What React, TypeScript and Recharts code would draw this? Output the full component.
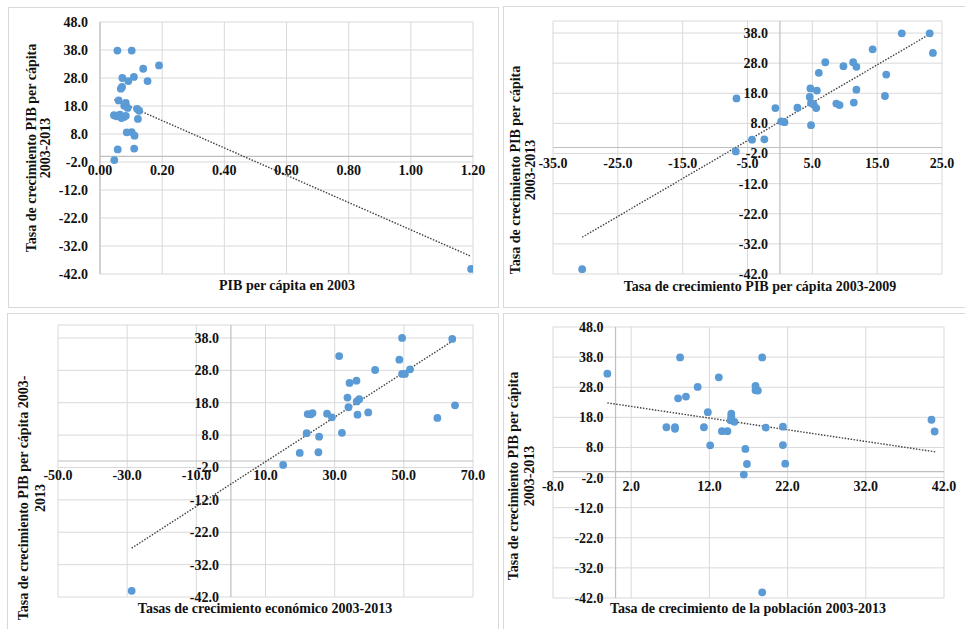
import React from 'react';
import {
  ScatterChart,
  Scatter,
  XAxis,
  YAxis,
  CartesianGrid,
  ReferenceLine,
  ReferenceDot,
} from 'recharts';

const FONT = '"Liberation Serif", "Times New Roman", serif';

// panel 1: PIB per cápita en 2003
const p1X = [0.056, 0.102, 0.19, 0.139, 0.072, 0.109, 0.091, 0.153, 0.071, 0.067, 0.06, 0.083, 0.078, 0.089, 0.119, 0.126, 0.045, 0.053, 0.064, 0.069, 0.077, 0.083, 0.122, 0.086, 0.102, 0.111, 0.057, 0.11, 0.046, 1.194];
const p1Y = [37.8, 37.8, 32.5, 31.3, 28.0, 28.4, 26.9, 26.9, 24.8, 24.2, 20.0, 19.1, 18.1, 17.3, 17.0, 16.3, 14.7, 14.3, 14.9, 13.7, 14.1, 14.5, 13.4, 8.6, 8.7, 7.4, 2.5, 2.8, -1.3, -40.2];
const p1XTicks = [0, 0.2, 0.4, 0.6, 0.8, 1.0, 1.2];
const p1YTicks = [48, 38, 28, 18, 8, -2, -12, -22, -32, -42];
const p1Trend = [{ x: 0.046, y: 20.3 }, { x: 1.19, y: -35.5 }];

// panel 2: tasa de crecimiento PIB per cápita 2003-2009
const p2X = [18.8, 23.1, 23.6, 14.3, 7.0, 11.3, 11.8, 9.8, 6.0, 16.4, 4.7, 5.7, 11.8, -6.7, 4.6, 16.2, 4.8, 5.2, 5.6, 8.7, 9.2, 11.4, -0.7, 2.7, 0.2, 0.7, 4.8, -4.3, -2.4, -6.8, -30.5];
const p2Y = [37.9, 37.9, 31.4, 32.6, 28.3, 28.3, 26.8, 27.0, 24.8, 24.2, 19.6, 18.9, 19.2, 16.3, 16.8, 17.1, 14.8, 14.3, 13.1, 14.6, 14.1, 14.9, 13.1, 13.2, 8.7, 8.4, 7.4, 2.6, 2.7, -1.3, -40.4];
const p2XTicks = [-35, -25, -15, -5, 5, 15, 25];
const p2YTicks = [38, 28, 18, 8, -2, -12, -22, -32, -42];
const p2Trend = [{ x: -30.5, y: -29.8 }, { x: 23.4, y: 38.0 }];

// panel 3: tasas de crecimiento económico 2003-2013
const p3X = [49.5, 64.0, 31.3, 48.7, 41.7, 51.8, 49.5, 50.3, 34.3, 36.3, 33.7, 37.1, 36.4, 34.0, 64.8, 22.2, 23.1, 23.6, 27.8, 29.2, 36.6, 39.7, 59.7, 21.9, 32.1, 25.5, 19.9, 25.3, 15.1, -28.7];
const p3Y = [38.0, 37.7, 32.4, 31.3, 28.1, 28.3, 26.9, 26.9, 24.1, 24.8, 19.6, 19.1, 18.4, 16.6, 17.2, 14.5, 14.4, 14.8, 14.6, 13.5, 14.3, 15.0, 13.3, 8.6, 8.7, 7.5, 2.5, 2.7, -1.2, -40.1];
const p3XTicks = [-50, -30, -10, 10, 30, 50, 70];
const p3YTicks = [38, 28, 18, 8, -2, -12, -22, -32, -42];
const p3Trend = [{ x: -28.7, y: -26.9 }, { x: 64.0, y: 37.0 }];

// panel 4: tasa de crecimiento de la población 2003-2013
const p4X = [-1.05, 8.25, 18.75, 13.2, 10.5, 17.9, 17.9, 18.2, 8.0, 9.0, 11.8, 14.8, 14.8, 15.2, 14.7, 40.4, 6.5, 7.6, 7.6, 11.3, 19.2, 21.4, 13.6, 14.3, 40.8, 12.1, 21.4, 16.6, 16.8, 21.7, 16.4, 18.75];
const p4Y = [32.5, 37.9, 37.9, 31.3, 28.1, 28.4, 27.0, 26.9, 24.3, 24.9, 19.7, 19.2, 18.4, 16.5, 17.0, 17.2, 14.7, 14.7, 14.2, 14.7, 14.6, 14.9, 13.4, 13.4, 13.3, 8.7, 8.8, 7.5, 2.5, 2.6, -1.0, -40.1];
const p4XTicks = [-8, 2, 12, 22, 32, 42];
const p4YTicks = [48, 38, 28, 18, 8, -2, -12, -22, -32, -42];
const p4Trend = [{ x: -1.05, y: 22.8 }, { x: 41.0, y: 6.5 }];

const labelStyle = { fontSize: 14, fontWeight: 'bold', fill: '#111', fontFamily: FONT };

const Dot = (props: any) => <circle cx={props.cx} cy={props.cy} r={3.9} fill="#5B9BD5" />;

function Panel(props: any) {
  const { left, top, width, height, margin, xs, ys, xTicks, yTicks, xDomain, yDomain, xDigits, trend, xOff } = props;
  const data = xs.map((x: number, i: number) => ({ x, y: ys[i] }));
  return (
    <>
      <div
        style={{
          position: 'absolute',
          left,
          top,
          width,
          height,
          border: '1px solid #d9d9d9',
          boxSizing: 'border-box',
        }}
      />
      <div style={{ position: 'absolute', left, top }}>
        <ScatterChart width={width} height={height} margin={margin} style={{ fontFamily: FONT }}>
          <CartesianGrid stroke="#d9d9d9" />
          <XAxis type="number" dataKey="x" domain={xDomain} ticks={xTicks} hide allowDataOverflow />
          <YAxis type="number" dataKey="y" domain={yDomain} ticks={yTicks} hide allowDataOverflow />
          <ReferenceLine x={0} stroke="#bfbfbf" strokeWidth={1.2} />
          <ReferenceLine y={0} stroke="#bfbfbf" strokeWidth={1.2} />
          <Scatter data={data} shape={Dot} isAnimationActive={false} />
          <ReferenceLine
            segment={trend}
            stroke="#404040"
            strokeWidth={1.4}
            strokeDasharray="1.5 1.5"
            ifOverflow="visible"
          />
          {xTicks.map((t: number) => (
            <ReferenceDot
              key={'x' + t}
              x={t}
              y={0}
              r={0}
              fill="none"
              stroke="none"
              label={{ value: t.toFixed(xDigits), position: 'bottom', offset: xOff, ...labelStyle }}
            />
          ))}
          {yTicks.map((t: number) => (
            <ReferenceDot
              key={'y' + t}
              x={0}
              y={t}
              r={0}
              fill="none"
              stroke="none"
              label={{ value: t.toFixed(1), position: 'left', offset: 12, ...labelStyle }}
            />
          ))}
        </ScatterChart>
      </div>
    </>
  );
}

function Title({ cx, cy, lines, rotate, lineHeight }: any) {
  return (
    <div
      style={{
        position: 'absolute',
        left: cx,
        top: cy,
        transform: `translate(-50%, -50%)${rotate ? ' rotate(-90deg)' : ''}`,
        fontFamily: FONT,
        fontWeight: 'bold',
        fontSize: 14,
        lineHeight: `${lineHeight || 14}px`,
        color: '#111',
        textAlign: 'center',
        whiteSpace: 'nowrap',
      }}
    >
      {lines.map((l: string) => (
        <div key={l}>{l}</div>
      ))}
    </div>
  );
}

export default function App() {
  return (
    <div
      style={{
        position: 'absolute',
        left: 0,
        top: 0,
        width: 965,
        height: 629,
        overflow: 'hidden',
        background: '#fff',
      }}
    >
      <Panel
        left={8}
        top={7}
        width={491}
        height={301}
        margin={{ left: 92, top: 15, right: 26, bottom: 34 }}
        xs={p1X}
        ys={p1Y}
        xTicks={p1XTicks}
        yTicks={p1YTicks}
        xDomain={[0, 1.2]}
        yDomain={[-42, 48]}
        xDigits={2}
        trend={p1Trend}
        xOff={9}
      />
      <Panel
        left={503}
        top={6}
        width={465}
        height={302}
        margin={{ left: 50, top: 15, right: 26, bottom: 34 }}
        xs={p2X}
        ys={p2Y}
        xTicks={p2XTicks}
        yTicks={p2YTicks}
        xDomain={[-35, 25]}
        yDomain={[-42, 42]}
        xDigits={1}
        trend={p2Trend}
        xOff={10.5}
      />
      <Panel
        left={7}
        top={313}
        width={492}
        height={320}
        margin={{ left: 51, top: 12, right: 26, bottom: 36 }}
        xs={p3X}
        ys={p3Y}
        xTicks={p3XTicks}
        yTicks={p3YTicks}
        xDomain={[-50, 70]}
        yDomain={[-42, 42]}
        xDigits={1}
        trend={p3Trend}
        xOff={9.5}
      />
      <Panel
        left={503}
        top={313}
        width={465}
        height={320}
        margin={{ left: 50, top: 14, right: 24, bottom: 35 }}
        xs={p4X}
        ys={p4Y}
        xTicks={p4XTicks}
        yTicks={p4YTicks}
        xDomain={[-8, 42]}
        yDomain={[-42, 48]}
        xDigits={1}
        trend={p4Trend}
        xOff={9.5}
      />

      <Title cx={287} cy={286} lines={['PIB per cápita en 2003']} />
      <Title cx={38.5} cy={148} rotate lines={['Tasa de crecimiento PIB per cápita', '2003-2013']} />

      <Title cx={760} cy={287} lines={['Tasa de crecimiento PIB per cápita 2003-2009']} />
      <Title cx={522.5} cy={170} rotate lineHeight={15} lines={['Tasa de crecimiento PIB per cápita', '2003-2013']} />

      <Title cx={265} cy={609} lines={['Tasas de crecimiento económico 2003-2013']} />
      <Title cx={32} cy={498} rotate lineHeight={17} lines={['Tasa de crecimiento PIB per cápita 2003-', '2013']} />

      <Title cx={748} cy={609} lines={['Tasa de crecimiento de la población 2003-2013']} />
      <Title cx={521.5} cy={476} rotate lineHeight={16} lines={['Tasa de crecimiento PIB per cápita', '2003-2013']} />
    </div>
  );
}
